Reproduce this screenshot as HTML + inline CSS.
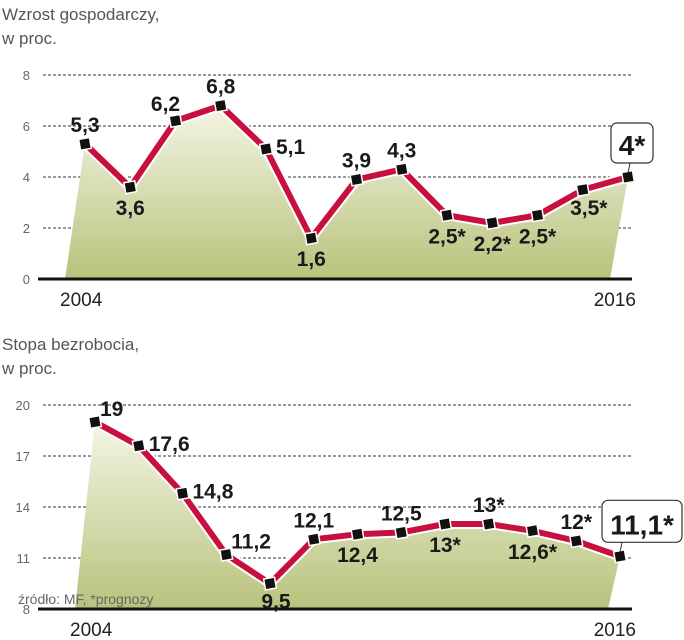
<!DOCTYPE html>
<html><head><meta charset="utf-8"><style>
body{margin:0;background:#fff;width:684px;height:640px;overflow:hidden}
svg{display:block}
.t{font-family:"Liberation Sans",sans-serif;font-size:17px;fill:#555}
.ax{font-family:"Liberation Sans",sans-serif;font-size:13px;fill:#666}
.yr{font-family:"Liberation Sans",sans-serif;font-size:19px;fill:#222}
.lb{font-family:"Liberation Sans Narrow","Liberation Sans",sans-serif;font-weight:bold;font-size:21px;fill:#1a1a1a}
</style></head><body>
<svg id="c" width="684" height="640">
<defs><linearGradient id="g" x1="0" y1="0" x2="0" y2="1"><stop offset="0" stop-color="#f4f5e6"/><stop offset="1" stop-color="#b9c27c"/></linearGradient></defs>
<text class="t" x="2" y="20">Wzrost gospodarczy,</text>
<text class="t" x="2" y="44">w proc.</text>
<text class="t" x="2" y="350">Stopa bezrobocia,</text>
<text class="t" x="2" y="374">w proc.</text>
</svg>
<script>
const gdpLabels=["5,3","3,6","6,2","6,8","5,1","1,6","3,9","4,3","2,5*","2,2*","2,5*","3,5*","4*"];
const gdpValues=[5.3,3.6,6.2,6.8,5.1,1.6,3.9,4.3,2.5,2.2,2.5,3.5,4];
const gdpPlace=["a","b","al","a","r","b","a","a","b","b","b","br","box"];
const gdpTicks=[0,2,4,6,8];
const unLabels=["19","17,6","14,8","11,2","9,5","12,1","12,4","12,5","13*","13*","12,6*","12*","11,1*"];
const unValues=[19,17.6,14.8,11.2,9.5,12.1,12.4,12.5,13,13,12.6,12,11.1];
const unPlace=["ar","r","r","ar","br","a","b","a","b","a","b","a","box"];
const unTicks=[8,11,14,17,20];
const years=["2004","2016"];
const NS="http://www.w3.org/2000/svg";
const svg=document.getElementById('c');
function el(t,a,p){const e=document.createElementNS(NS,t);for(const k in a)e.setAttribute(k,a[k]);(p||svg).appendChild(e);return e;}
function chart(cfg){
  const {vals,labels,place,ticks,x0,x1,y0,v0,v1,yTop,fillL,fillR,pref,boxSize}=cfg;
  const X=i=>x0+(x1-x0)*i/(vals.length-1);
  const Y=v=>y0-(v-v0)*(y0-yTop)/(v1-v0);
  ticks.forEach(t=>{
    const y=Y(t);
    if(t!==v0){const l=el('line',{x1:43,x2:632,y1:y,y2:y,stroke:'#333','stroke-width':1,'stroke-dasharray':'3,2'});
      }
    const tx=el('text',{x:30,y:y+5,'text-anchor':'end',class:'ax'});tx.textContent=t;
    
  });
  let d=`M${fillL},${y0} `;vals.forEach((v,i)=>d+=`L${X(i)},${Y(v)} `);d+=`L${fillR},${y0} Z`;
  const f=el('path',{d,fill:'url(#g)'});
  if(cfg.note){const n=el('text',{x:18,y:604,class:'ax',style:'font-size:14px'});n.textContent=cfg.note;
    }
  const ax=el('line',{x1:38,x2:632,y1:y0,y2:y0,stroke:'#111','stroke-width':3});
  
  const pts=vals.map((v,i)=>X(i)+','+Y(v)).join(' ');
  el('polyline',{points:pts,fill:'none',stroke:'#fff','stroke-width':10,'stroke-linejoin':'round'});
  const ln=el('polyline',{points:pts,fill:'none',stroke:'#c8103e','stroke-width':6,'stroke-linejoin':'miter'});
  
  vals.forEach((v,i)=>{
    const x=X(i),y=Y(v);
    const m=el('rect',{x:x-5.5,y:y-5.5,width:11,height:11,fill:'#111',stroke:'#fff','stroke-width':1.5,transform:`rotate(-10 ${x} ${y})`});
    
    const p=place[i];let lx=x,ly=y,anc='middle';
    if(p==='a'){ly=y-12;}else if(p==='b'){ly=y+28;}else if(p==='al'){lx=x-10;ly=y-10;}
    else if(p==='r'){lx=x+10;ly=y+5;anc='start';}else if(p==='br'){lx=x+6;ly=y+25;}
    else if(p==='ar'){lx=x+5;ly=y-6;anc='start';}
    if(p==='box'){
      const bw=boxSize[0],bh=boxSize[1],bx=x-bw/2+cfg.boxDx,by=y-bh-14;
      el('line',{x1:x,y1:y-4,x2:x+2,y2:by+bh,stroke:'#333','stroke-width':1});
      const r=el('rect',{x:bx,y:by,width:bw,height:bh,rx:6,fill:'#fff',stroke:'#333','stroke-width':1.2});
      
      const t=el('text',{x:bx+bw/2,y:by+bh-8,'text-anchor':'middle',class:'lb',style:'font-size:28px'});t.textContent=labels[i];
      
    }else{
      const t=el('text',{x:lx,y:ly,'text-anchor':anc,class:'lb'});t.textContent=labels[i];
      
    }
  });
  const a=el('text',{x:x0-25,y:y0+27,class:'yr'});a.textContent=years[0];
  
  const b=el('text',{x:636,y:y0+27,'text-anchor':'end',class:'yr'});b.textContent=years[1];
  
}
chart({vals:gdpValues,labels:gdpLabels,place:gdpPlace,ticks:gdpTicks,x0:85,x1:628,y0:279,v0:0,v1:8,yTop:75,fillL:65,fillR:610,pref:'gdp',boxSize:[42,40],boxDx:4});
chart({vals:unValues,labels:unLabels,place:unPlace,ticks:unTicks,x0:95,x1:620,y0:609,v0:8,v1:20,yTop:405,fillL:75,fillR:608,pref:'unemp',boxSize:[80,42],boxDx:22,note:'źródło: MF, *prognozy'});
</script>
</body></html>
